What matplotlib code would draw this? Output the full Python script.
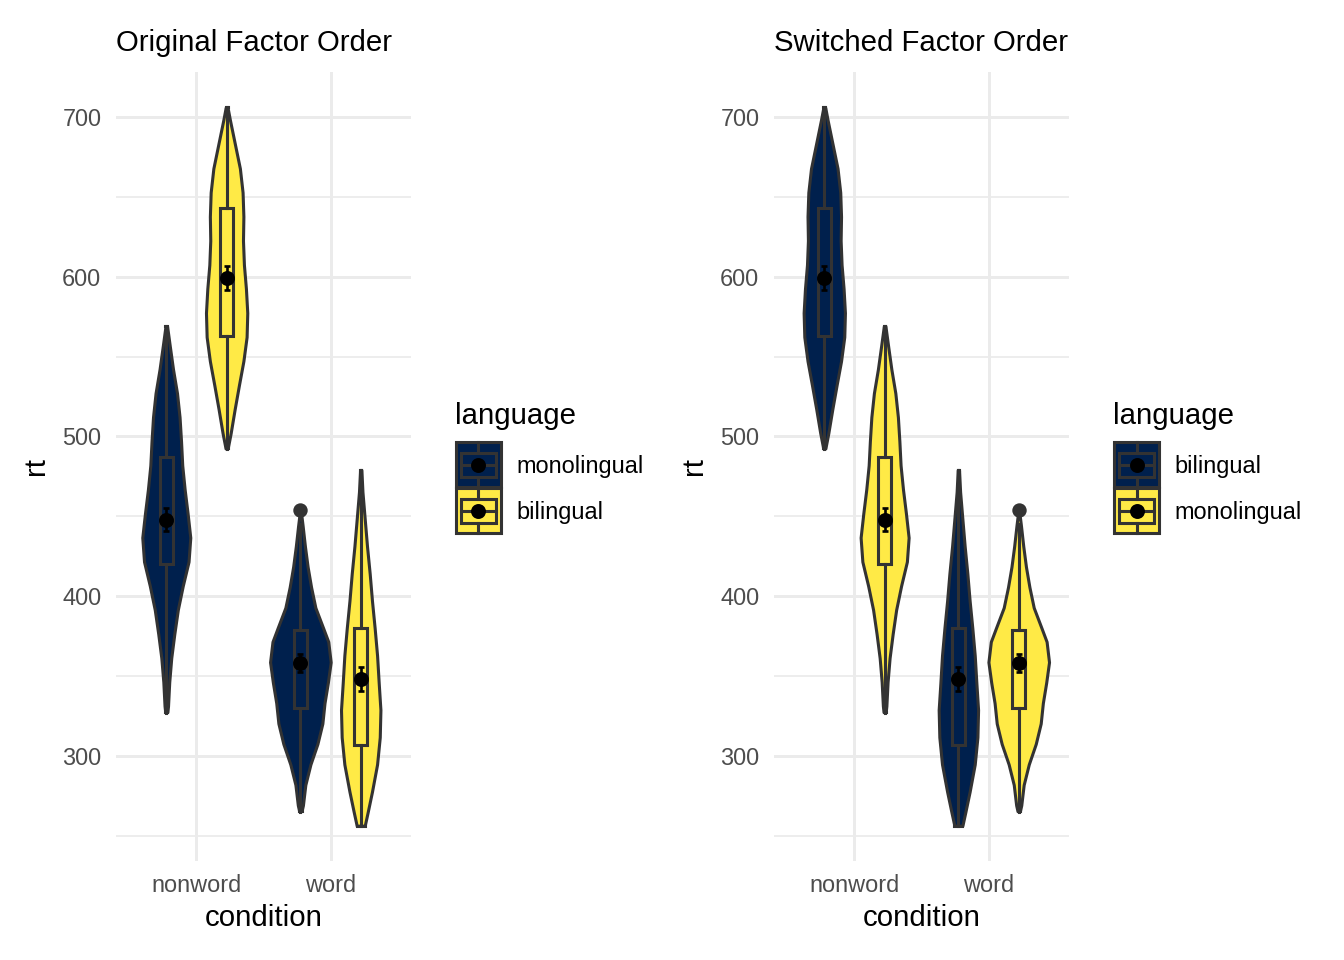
import numpy as np
import matplotlib
matplotlib.use("Agg")
import matplotlib.pyplot as plt
from matplotlib.patches import Rectangle

plt.rcParams['font.family'] = ['Liberation Sans', 'DejaVu Sans']

W, H, DPI = 1344, 960, 192

conditions = ["nonword", "word"]
fills = ["#00204D", "#FFEA46"]   # first factor level, second factor level
outline = "#333333"

# violin outlines: rt values and half-widths (x units)
viol_rt = {
    ("nonword", "monolingual"): [327.4, 331.2, 346.2, 361.3, 376.4, 391.5, 406.5, 421.6, 436.7,
                                 451.8, 466.8, 481.9, 497, 512.1, 527.1, 542.2, 557.3, 569.1],
    ("nonword", "bilingual"): [492.5, 502, 517.1, 532.2, 547.2, 562.3, 577.4, 592.5, 607.5,
                               622.6, 637.7, 652.8, 667.8, 682.9, 698, 706],
    ("word", "monolingual"): [265.4, 269.1, 281.9, 294.7, 307.5, 320.3, 333.1, 345.9, 358.7,
                              371.5, 380, 392.8, 405.6, 418.4, 431.2, 444, 451.5],
    ("word", "bilingual"): [256.3, 264.8, 277.6, 294.7, 311.7, 328.8, 345.9, 362.9, 380,
                            397.1, 414.1, 431.2, 448.2, 465.3, 479],
}
viol_hw = {
    ("nonword", "monolingual"): [0.008, 0.013, 0.022, 0.037, 0.060, 0.086, 0.123, 0.166, 0.179,
                                 0.159, 0.137, 0.119, 0.110, 0.099, 0.080, 0.050, 0.025, 0.006],
    ("nonword", "bilingual"): [0.008, 0.030, 0.060, 0.092, 0.125, 0.149, 0.154, 0.144, 0.129,
                               0.122, 0.125, 0.119, 0.099, 0.062, 0.025, 0.007],
    ("word", "monolingual"): [0.009, 0.019, 0.037, 0.075, 0.127, 0.164, 0.180, 0.205, 0.226,
                              0.208, 0.170, 0.112, 0.080, 0.054, 0.034, 0.017, 0.006],
    ("word", "bilingual"): [0.030, 0.052, 0.084, 0.122, 0.142, 0.147, 0.134, 0.122, 0.104,
                            0.084, 0.067, 0.047, 0.030, 0.013, 0.005],
}
# box stats: whislo, q1, med, q3, whishi
box_stats = {
    ("nonword", "monolingual"): [327, 420, 447, 487, 569],
    ("nonword", "bilingual"): [492, 563, 599, 643, 706],
    ("word", "monolingual"): [265, 330, 358, 379, 445],
    ("word", "bilingual"): [256, 307, 347, 380, 479],
}
outliers = {("word", "monolingual"): [454]}
means = {
    ("nonword", "monolingual"): 448.0,
    ("nonword", "bilingual"): 599.3,
    ("word", "monolingual"): 358.3,
    ("word", "bilingual"): 348.3,
}
ses = {
    ("nonword", "monolingual"): 7.0,
    ("nonword", "bilingual"): 7.6,
    ("word", "monolingual"): 5.5,
    ("word", "bilingual"): 7.5,
}

panels = [
    ("Original Factor Order", ["monolingual", "bilingual"]),
    ("Switched Factor Order", ["bilingual", "monolingual"]),
]


def px_rect(x0, y0, x1, y1):
    return [x0 / W, 1 - y1 / H, (x1 - x0) / W, (y1 - y0) / H]


fig = plt.figure(figsize=(W / DPI, H / DPI), dpi=DPI)
fig.patch.set_facecolor("white")
lw = 1.15

panel_x = [116, 774]
for (title, order), x0 in zip(panels, panel_x):
    ax = fig.add_axes(px_rect(x0, 71.5, x0 + 295, 860.5))
    for ci, cond in enumerate(conditions):
        for li, lang in enumerate(order):
            key = (cond, lang)
            col = fills[li]
            pos = ci + 1 + (-0.225 if li == 0 else 0.225)
            rt = np.array(viol_rt[key])
            hw = np.array(viol_hw[key])
            ax.fill_betweenx(rt, pos - hw, pos + hw, facecolor=col,
                             edgecolor=outline, linewidth=lw, joinstyle="round", zorder=2)
            ax.plot([pos - hw[0], pos + hw[0]], [rt[0], rt[0]], color=outline, lw=lw, zorder=2)
            ax.plot([pos - hw[-1], pos + hw[-1]], [rt[-1], rt[-1]], color=outline, lw=lw, zorder=2)
            lo, q1, med, q3, hi = box_stats[key]
            st = dict(whislo=lo, q1=q1, med=med, q3=q3, whishi=hi,
                      fliers=outliers.get(key, []))
            ax.bxp([st], positions=[pos], widths=0.1, patch_artist=True,
                   showcaps=False, manage_ticks=False,
                   boxprops=dict(facecolor=col, edgecolor=outline, linewidth=lw),
                   whiskerprops=dict(color=outline, linewidth=lw),
                   medianprops=dict(color=outline, linewidth=lw),
                   flierprops=dict(marker="o", markerfacecolor=outline,
                                   markeredgecolor=outline, markersize=4.4),
                   zorder=3)
            ax.errorbar([pos], [means[key]], yerr=[ses[key]], fmt="o", color="black",
                        markersize=4.6, elinewidth=1.0, capsize=1.3, capthick=1.0,
                        zorder=4)

    ax.set_xlim(0.4, 2.6)
    ax.set_ylim(234.5, 728.5)
    ax.set_xticks([1, 2])
    ax.set_xticklabels(conditions)
    ax.set_yticks([300, 400, 500, 600, 700])
    ax.set_yticks([250, 350, 450, 550, 650], minor=True)
    ax.grid(True, which="major", color="#EBEBEB", linewidth=1.1, zorder=0)
    ax.grid(True, which="minor", axis="y", color="#EBEBEB", linewidth=0.65, zorder=0)
    ax.set_axisbelow(True)
    ax.tick_params(which="both", length=0, labelsize=8.8, labelcolor="#4D4D4D")
    ax.tick_params(axis="y", pad=5.5)
    ax.tick_params(axis="x", pad=5.2)
    for s in ax.spines.values():
        s.set_visible(False)
    ax.set_xlabel("condition", fontsize=11, labelpad=2.4)
    ax.set_ylabel("rt", fontsize=11, labelpad=4.5)
    ax.set_title(title, loc="left", fontsize=11, pad=7.8)

    # legend drawn to match the ggplot guide
    lx = x0 + 340
    lg = fig.add_axes(px_rect(lx - 5, 390, lx + 215, 545))
    lg.set_xlim(lx - 5, lx + 215)
    lg.set_ylim(545, 390)
    lg.axis("off")
    lg.text(lx - 1, 416, "language", fontsize=11, va="center", ha="left")
    for i, lang in enumerate(order):
        ky = 442 + i * 46
        cx, cy = lx + 22.5, ky + 22.5
        lg.add_patch(Rectangle((lx, ky), 45, 45, facecolor=fills[i],
                               edgecolor=outline, linewidth=lw))
        lg.add_patch(Rectangle((cx - 17.5, cy - 12), 35, 24, facecolor=fills[i],
                               edgecolor=outline, linewidth=lw))
        lg.plot([cx - 17.5, cx + 17.5], [cy, cy], color=outline, linewidth=lw)
        lg.plot([cx, cx], [ky, cy - 12], color=outline, linewidth=lw)
        lg.plot([cx, cx], [cy + 12, ky + 45], color=outline, linewidth=lw)
        lg.plot([cx], [cy], "o", color="black", markersize=4.6)
        lg.text(lx + 60, cy + 2, lang, fontsize=8.8, va="center", ha="left")

fig.savefig("out.png", dpi=DPI, facecolor="white")
